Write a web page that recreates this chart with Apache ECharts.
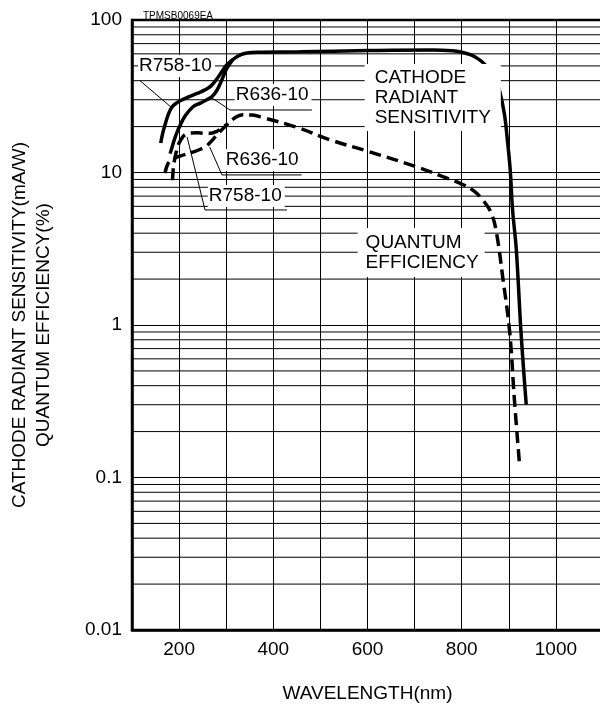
<!DOCTYPE html>
<html><head><meta charset="utf-8">
<script src="https://cdn.jsdelivr.net/npm/echarts@6/dist/echarts.min.js"></script>
<style>html,body{margin:0;padding:0;background:#fff}#c{width:600px;height:708px}</style>
</head><body><div id="c"></div>
<script>
// ---- data (wavelength nm, value) ----
const r758Sensitivity = [[161,15.6],[165,18],[170,20.5],[177,24],[185,26.9],[195,28.6],[210,30.3],[238,33],[255,34.8],[268,37],[280,41],[292,46.5],[301,50.7],[314,55],[330,59],[344,60.8],[370,61.5],[456,61.8],[600,63],[738,63.6],[780,62.8],[800,61.5],[820,59],[838,54.7],[852,50],[863,44.9],[873,39],[880,34.8],[891,23.8],[897,16.3],[903,10.4],[908,5.7],[916,3.1],[926,0.89],[937,0.30]];
const r636Sensitivity = [[181,13.3],[186,15],[191,16.8],[197,18.8],[202,20.3],[212,23.3],[229,26.9],[245,28.5],[259,30],[270,31.5],[280,34.5],[290,40],[301,48],[314,55]];
const r636QE = [[170,9.9],[175,11.2],[181,11.9],[190,12.4],[205,12.9],[229,13.6],[245,14.2],[259,15.0],[272,16.5],[285,18.3],[301,20.5],[318,22.8],[335,23.9],[355,23.8],[378,22.9],[450,19.8],[520,16.4],[600,13.8],[704,10.9],[760,9.4],[800,8.4],[825,7.6],[845,6.6],[863,5.4],[874,4.0],[887,2.07],[902,0.89],[912,0.32],[923,0.12]];
const r758QE = [[186,8.9],[188,10.8],[191,12.4],[195,14],[200,15.6],[206,16.8],[212,17.6],[222,18.1],[240,18.2],[262,18.0],[280,18.6],[293,19.9],[301,20.5]];
const xTickLabels = [200,400,600,800,1000];
const yTickLabels = {0.01:'0.01',0.1:'0.1',1:'1',10:'10',100:'100'};
const minorMultipliers = [2,3,4,5,6,7,8,9];
const decades = [0.01,0.1,1,10];
const minorGridValues = [];
decades.forEach(d => minorMultipliers.forEach(m => minorGridValues.push(+(m*d).toPrecision(3))));

// ---- annotations (anchored in data coordinates) ----
const annotationTexts = ['R758-10','R636-10','CATHODE\nRADIANT\nSENSITIVITY','R636-10','R758-10','QUANTUM\nEFFICIENCY'];
const annotationAnchors = [[112.7,50],[318,32.2],[594,31],[297,12.1],[261,7.0],[579,2.99]];
const annotationPadding = [[1,3,1,1],[1,3,1,1],[5,10,2,10],[1,3,1,1],[1,3,1,1],[6,6,3,8]];
const leaderLines = [
  [[117,40],[185,26.5]],
  [[270,30.8],[308,25.7],[482,25.7]],
  [[265,14.7],[291,9.64],[460,9.64]],
  [[217,17.1],[255,5.68],[429,5.68]]
];

const FONT = 'Liberation Sans, Arial, Helvetica, sans-serif';
const chart = echarts.init(document.getElementById('c'), null, {renderer:'canvas'});

const solid = {color:'#000', width:3.5, type:'solid'};
const dashed = {color:'#000', width:3.5, type:[12,6]};
function curve(name, data, ls){
  return {name, type:'line', data, showSymbol:false, symbol:'none', smooth:0.4,
    lineStyle:ls, z:5, silent:true, animation:false};
}

const option = {
  animation:false,
  backgroundColor:'#fff',
  title:{text:'TPMSB0069EA', left:138, top:6, textStyle:{fontSize:10, fontWeight:'normal', color:'#000', fontFamily:FONT}},
  grid:{left:132, top:20, width:471, height:610, containLabel:false, outerBoundsMode:'none',
    show:true, borderColor:'#000', borderWidth:2.5, backgroundColor:'transparent'},
  xAxis:{type:'value', min:100, max:1100, interval:100,
    axisLine:{lineStyle:{color:'#000', width:2.5}}, axisTick:{show:false},
    splitLine:{show:true, lineStyle:{color:'#000', width:1}},
    axisLabel:{color:'#000', fontSize:19, fontFamily:FONT, margin:10,
      formatter:v => xTickLabels.indexOf(v) >= 0 ? String(v) : ''},
    name:'WAVELENGTH(nm)', nameLocation:'middle', nameGap:54,
    nameTextStyle:{color:'#000', fontSize:19, fontFamily:FONT}},
  yAxis:{type:'log', logBase:10, min:0.01, max:100,
    axisLine:{lineStyle:{color:'#000', width:2.5}}, axisTick:{show:false},
    splitLine:{show:true, lineStyle:{color:'#000', width:1}},
    axisLabel:{color:'#000', fontSize:19, fontFamily:FONT, margin:10,
      formatter:v => yTickLabels[+v.toPrecision(2)] || ''},
    name:'CATHODE RADIANT SENSITIVITY(mA/W)\nQUANTUM EFFICIENCY(%)', nameLocation:'middle', nameRotate:90, nameGap:76,
    nameTextStyle:{color:'#000', fontSize:19, fontFamily:FONT, lineHeight:24}},
  series:[
    {type:'custom', name:'minorGrid', data:minorGridValues, z:1, silent:true,
      renderItem:(params, api) => {
        const v = api.value(0);
        const p1 = api.coord([100, v]), p2 = api.coord([1100, v]);
        return {type:'line', shape:{x1:p1[0], y1:p1[1], x2:p2[0], y2:p2[1]}, style:{stroke:'#000', lineWidth:1}};
      },
      encode:{x:-1, y:0}},
    curve('R758-10 sensitivity', r758Sensitivity, solid),
    curve('R636-10 sensitivity', r636Sensitivity, solid),
    curve('R636-10 QE', r636QE, dashed),
    curve('R758-10 QE', r758QE, dashed)
  ]
};
chart.setOption(option);

const graphics = [];
annotationTexts.forEach((t, i) => {
  const p = chart.convertToPixel({gridIndex:0}, annotationAnchors[i]);
  graphics.push({type:'text', x:p[0], y:p[1], z:10, silent:true,
    style:{text:t, fill:'#000', font:'19px ' + FONT, lineHeight:20, align:'left', verticalAlign:'middle',
      backgroundColor:'#fff', padding:annotationPadding[i]}});
});
leaderLines.forEach(pts => {
  graphics.push({type:'polyline', z:11, silent:true,
    shape:{points:pts.map(pt => chart.convertToPixel({gridIndex:0}, pt))},
    style:{stroke:'#000', lineWidth:1, fill:null}});
});
chart.setOption({graphic:graphics});
</script></body></html>
